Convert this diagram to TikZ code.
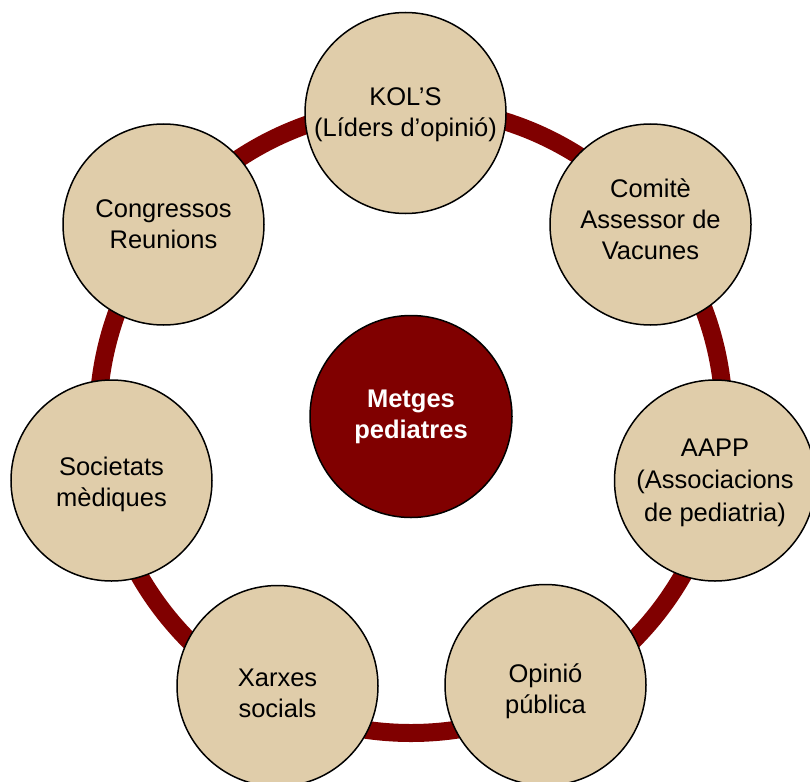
\documentclass[tikz,border=0pt]{standalone}
\usepackage{fontspec}
\setmainfont{Liberation Sans}
\definecolor{ringred}{HTML}{800000}
\definecolor{beige}{HTML}{E0CDAA}
\tikzset{
  outer/.style={circle, draw=black, line width=1.5pt, fill=beige, minimum size=201pt, inner sep=0pt},
  hub/.style={circle, draw=black, line width=1.5pt, fill=ringred, minimum size=202pt, inner sep=0pt},
  lbl/.style={align=center, inner sep=0pt, font=\fontsize{25.5}{30.8}\selectfont},
  hublbl/.style={align=center, inner sep=0pt, text=white, font=\fontsize{25.5}{30.8}\selectfont\bfseries},
  ringline/.style={draw=ringred, line width=18pt}
}
\begin{document}
\begin{tikzpicture}[x=1pt,y=-1pt]
\useasboundingbox (0,0) rectangle (810,781);
\coordinate (ringc) at (411,420);
\draw[ringline] (ringc) circle (313);
\node[hub] (hubc) at (411,416.5) {};
\node[hublbl] (hubt) at (hubc) {Metges\\pediatres};
\node[outer] (kol) at (405.5,113) {};
\node[lbl, yshift=-2pt] (kolt) at (kol) {KOL’S\\(Líders d’opinió)};
\node[outer] (com) at (650.5,224.5) {};
\node[lbl, yshift=5pt] (comt) at (com) {Comitè\\Assessor de\\Vacunes};
\node[outer] (aapp) at (715,480.5) {};
\node[lbl, yshift=-2pt, font=\fontsize{25.5}{32.5}\selectfont] (aappt) at (aapp) {AAPP\\(Associacions\\de pediatria)};
\node[outer] (opi) at (545.5,685) {};
\node[lbl, yshift=-6pt] (opit) at (opi) {Opinió\\pública};
\node[outer] (xar) at (277.5,686) {};
\node[lbl, yshift=-7pt] (xart) at (xar) {Xarxes\\socials};
\node[outer] (soc) at (111.5,480.5) {};
\node[lbl, yshift=-4pt] (soct) at (soc) {Societats\\mèdiques};
\node[outer] (con) at (163.5,224.5) {};
\node[lbl] (cont) at (con) {Congressos\\Reunions};
\end{tikzpicture}
\end{document}
